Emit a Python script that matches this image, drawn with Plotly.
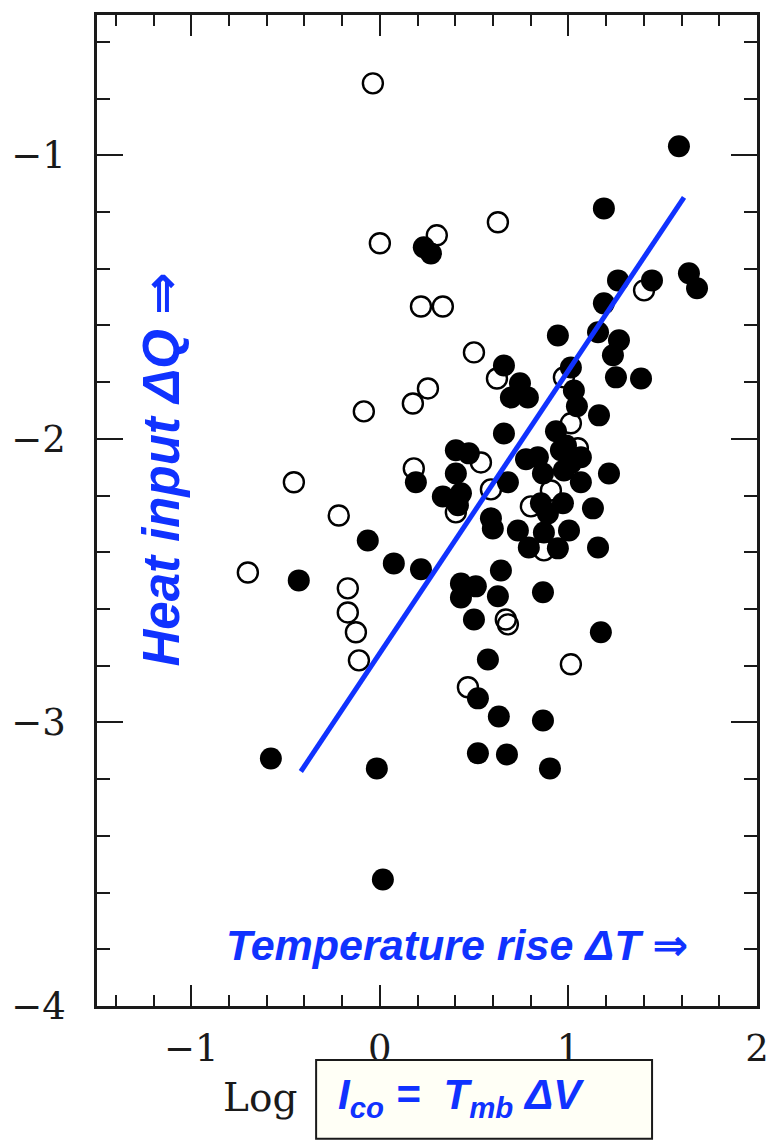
import plotly.graph_objects as go

# Filled circles (log I_co, log dQ)
filled_x = [1.586, 1.188, 0.233, 0.271, 1.263, 1.443, 1.639, 1.682, 1.188, 0.944,
            1.157, 1.268, 1.236, 0.658, 1.013, 1.252, 1.385, 0.743, 0.695, 0.785,
            1.029, 1.045, 1.162, 0.934, 0.658, 0.987, 0.403, 0.472, 0.775, 0.838,
            0.960, 1.013, 1.066, 0.865, 0.976, 1.066, 0.679, 1.215, 0.191, 0.403,
            0.334, 0.430, 0.414, 0.854, 0.971, 0.891, 1.130, 0.589, 0.599, 0.732,
            0.870, 1.003, 0.790, 0.944, 1.157, -0.064, 0.074, 0.218, 0.642, -0.430,
            0.430, 0.509, 0.430, 0.626, 0.865, 0.499, 1.172, 0.573, 0.520, 0.631,
            0.865, -0.578, -0.016, 0.520, 0.674, 0.902, 0.016]
filled_y = [-0.968, -1.187, -1.324, -1.346, -1.441, -1.441, -1.416, -1.469, -1.522, -1.635,
            -1.624, -1.652, -1.705, -1.741, -1.748, -1.783, -1.787, -1.804, -1.854, -1.854,
            -1.829, -1.885, -1.917, -1.973, -1.981, -2.023, -2.040, -2.051, -2.072, -2.065,
            -2.040, -2.086, -2.065, -2.122, -2.111, -2.153, -2.153, -2.122, -2.153, -2.122,
            -2.203, -2.192, -2.234, -2.227, -2.227, -2.263, -2.245, -2.280, -2.316, -2.323,
            -2.330, -2.323, -2.383, -2.386, -2.383, -2.358, -2.439, -2.460, -2.464, -2.499,
            -2.510, -2.520, -2.559, -2.555, -2.541, -2.637, -2.682, -2.778, -2.915, -2.979,
            -2.993, -3.127, -3.162, -3.109, -3.113, -3.162, -3.554]

# Open circles
open_x = [-0.037, 0.626, 0.000, 0.302, 0.218, 0.334, 0.499, 0.255, 0.175, -0.085,
          0.621, 0.976, 1.401, 1.013, 1.050, 0.180, 0.536, 0.589, 0.907, 0.403,
          0.801, 0.870, -0.456, -0.218, -0.700, -0.170, -0.170, -0.127, -0.111, 0.467,
          1.013, 0.668, 0.679]
open_y = [-0.746, -1.236, -1.310, -1.282, -1.533, -1.533, -1.695, -1.822, -1.875, -1.903,
          -1.787, -1.783, -1.476, -1.945, -2.033, -2.104, -2.083, -2.178, -2.182, -2.259,
          -2.238, -2.393, -2.153, -2.270, -2.471, -2.527, -2.612, -2.682, -2.781, -2.876,
          -2.795, -2.637, -2.654]

# Fit line end points
line_x = [-0.419, 1.613]
line_y = [-3.173, -1.148]

x_ticks = [-1, 0, 1, 2]
y_ticks = [-1, -2, -3, -4]

BLUE = "#1032ff"
FG = "#1a1a1a"
SERIF = "DejaVu Serif, Liberation Serif, serif"
SANS = "Liberation Sans, Arial, DejaVu Sans, sans-serif"

fig = go.Figure()
fig.add_trace(go.Scatter(
    x=open_x, y=open_y, mode="markers",
    marker=dict(symbol="circle-open", size=20, color="black", line=dict(width=2.4, color="black")),
    showlegend=False, hoverinfo="skip"))
fig.add_trace(go.Scatter(
    x=filled_x, y=filled_y, mode="markers",
    marker=dict(symbol="circle", size=22, color="black", line=dict(width=0)),
    showlegend=False, hoverinfo="skip"))
fig.add_trace(go.Scatter(
    x=line_x, y=line_y, mode="lines",
    line=dict(color=BLUE, width=5),
    showlegend=False, hoverinfo="skip"))

axis_common = dict(
    showline=True, linecolor=FG, linewidth=2.5, mirror="ticks",
    ticks="inside", tickcolor=FG, tickwidth=2, showgrid=False, zeroline=False,
    tickfont=dict(family=SERIF, size=37, color=FG),
)

fig.update_xaxes(
    range=[-1.5, 2.0], tickvals=x_ticks, ticklen=21, ticklabelstandoff=8,
    minor=dict(dtick=0.2, tick0=0, ticks="inside", ticklen=11, tickwidth=2, tickcolor=FG, showgrid=False),
    **axis_common)
fig.update_yaxes(
    range=[-4.0, -0.505], tickvals=y_ticks, ticklen=26, ticklabelstandoff=21,
    minor=dict(dtick=0.2, tick0=0, ticks="inside", ticklen=13, tickwidth=2, tickcolor=FG, showgrid=False),
    **axis_common)

fig.update_layout(
    width=782, height=1142,
    margin=dict(l=97, r=25, t=15, b=136),
    paper_bgcolor="white", plot_bgcolor="white",
    shapes=[dict(type="rect", xref="paper", yref="paper",
                 x0=0.332, x1=0.841, y0=-0.134, y1=-0.0545,
                 fillcolor="#fffff6", line=dict(color=FG, width=2))],
    annotations=[
        dict(text="<b><i>Heat input ΔQ ⇒</i></b>", xref="paper", yref="paper",
             x=0.098, y=0.541, textangle=-90, showarrow=False,
             font=dict(family=SANS, size=51, color=BLUE), xanchor="center", yanchor="middle"),
        dict(text="<b><i>Temperature rise ΔT ⇒</i></b>", xref="paper", yref="paper",
             x=0.545, y=0.0616, showarrow=False,
             font=dict(family=SANS, size=43, color=BLUE), xanchor="center", yanchor="middle"),
        dict(text="Log", xref="paper", yref="paper", x=0.247, y=-0.092, showarrow=False,
             font=dict(family=SERIF, size=39, color=FG), xanchor="center", yanchor="middle"),
        dict(text="<b><i>I<sub>co</sub> =&nbsp; T<sub>mb</sub> ΔV</i></b>", xref="paper", yref="paper",
             x=0.362, y=-0.092, showarrow=False,
             font=dict(family=SANS, size=42, color=BLUE), xanchor="left", yanchor="middle"),
    ],
)

fig.write_html("out.html")
